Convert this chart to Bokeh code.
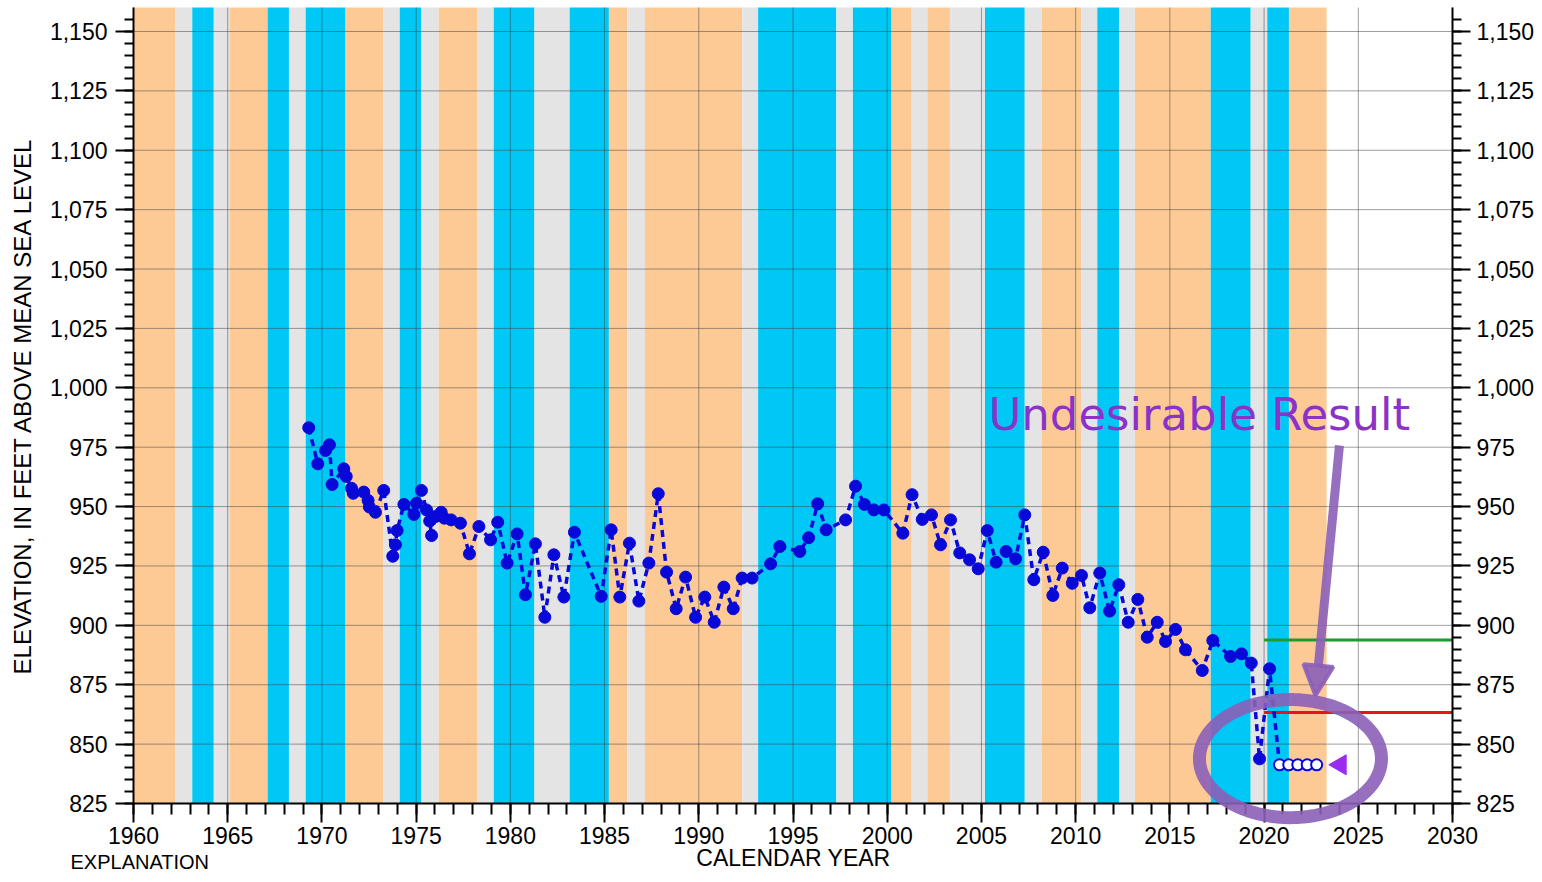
import math
import numpy as np
from bokeh.plotting import figure
from bokeh.models import (Range1d, LinearAxis, FixedTicker, NumeralTickFormatter,
                          Arrow, NormalHead, Label, PolyAnnotation)
from bokeh.embed import file_html
from bokeh.resources import INLINE

# ---------------- data ----------------
years = [1969.30, 1969.78, 1970.19, 1970.40, 1970.54, 1971.16, 1971.29, 1971.57, 1971.66, 1972.22,
         1972.45, 1972.52, 1972.84, 1973.28, 1973.76, 1973.90, 1973.99, 1974.35, 1974.88, 1975.02,
         1975.28, 1975.55, 1975.72, 1975.82, 1976.03, 1976.33, 1976.50, 1976.86, 1977.35, 1977.83,
         1978.33, 1978.95, 1979.33, 1979.83, 1980.36, 1980.80, 1981.33, 1981.83, 1982.31, 1982.84,
         1983.40, 1984.82, 1985.35, 1985.81, 1986.32, 1986.82, 1987.35, 1987.85, 1988.29, 1988.80,
         1989.30, 1989.83, 1990.32, 1990.82, 1991.33, 1991.83, 1992.30, 1992.83, 1993.81, 1994.30,
         1995.36, 1995.83, 1996.31, 1996.76, 1997.79, 1998.32, 1998.79, 1999.29, 1999.82, 2000.83,
         2001.32, 2001.86, 2002.35, 2002.83, 2003.36, 2003.85, 2004.37, 2004.83, 2005.31, 2005.78,
         2006.31, 2006.81, 2007.30, 2007.78, 2008.28, 2008.79, 2009.29, 2009.82, 2010.31, 2010.75,
         2011.28, 2011.80, 2012.29, 2012.79, 2013.30, 2013.80, 2014.33, 2014.77, 2015.30, 2015.83,
         2016.72, 2017.28, 2018.22, 2018.80, 2019.32, 2019.76, 2020.29]
elevations = [983.2, 968.0, 973.6, 976.0, 959.3, 965.9, 962.7, 957.7, 955.6, 956.1,
              952.6, 949.8, 947.6, 956.8, 929.1, 933.9, 939.9, 950.9, 946.7, 951.4,
              956.8, 948.6, 943.9, 937.8, 945.8, 947.6, 945.1, 944.4, 943.0, 930.1,
              941.6, 936.0, 943.4, 926.2, 938.5, 912.9, 934.3, 903.4, 929.7, 911.9,
              939.2, 912.2, 940.2, 911.9, 934.6, 910.2, 926.2, 955.4, 922.4, 907.0,
              920.3, 903.4, 911.9, 901.3, 916.1, 907.0, 919.9, 919.9, 925.9, 933.2,
              931.1, 936.9, 951.2, 940.2, 944.4, 958.6, 950.9, 948.6, 948.6, 938.8,
              955.0, 944.6, 946.5, 933.9, 944.4, 930.5, 927.6, 923.8, 939.9, 926.6,
              931.1, 928.0, 946.5, 919.2, 930.8, 912.6, 924.1, 917.7, 921.0, 907.4,
              922.0, 906.0, 917.1, 901.3, 910.9, 895.0, 901.3, 893.2, 898.3, 889.7,
              881.0, 893.6, 886.9, 888.0, 884.1, 843.8, 881.7]

hollow_years = [2020.82, 2021.31, 2021.79, 2022.29, 2022.79]
hollow_elevations = [841.3, 841.3, 841.3, 841.3, 841.3]

target_year = [2024.05]
target_elevation = [841.3]

objective_years = [2020.0, 2030.0]
objective_elevation = [893.8, 893.8]
threshold_years = [2020.0, 2030.0]
threshold_elevation = [863.3, 863.3]

band_start = [1960.0, 1962.23, 1963.12, 1964.26, 1965.12, 1967.12, 1968.25, 1969.14, 1971.25, 1973.25,
              1974.13, 1975.26, 1976.2, 1978.23, 1979.12, 1981.28, 1983.15, 1985.23, 1986.2, 1987.14,
              1992.3, 1993.15, 1997.3, 1998.18, 2000.23, 2001.3, 2002.13, 2003.33, 2005.19, 2007.3,
              2008.2, 2010.3, 2011.15, 2012.3, 2013.15, 2017.17, 2019.29, 2020.17, 2021.32]
band_end = band_start[1:] + [2023.32]
band_type = ["dry", "normal", "wet", "normal", "dry", "wet", "normal", "wet", "dry", "normal",
             "wet", "normal", "dry", "normal", "wet", "normal", "wet", "dry", "normal", "dry",
             "normal", "wet", "normal", "wet", "dry", "normal", "dry", "normal", "wet", "normal",
             "dry", "normal", "wet", "normal", "dry", "wet", "normal", "wet", "dry"]

x_ticks = [1960, 1965, 1970, 1975, 1980, 1985, 1990, 1995, 2000, 2005, 2010, 2015, 2020, 2025, 2030]
y_ticks = [825, 850, 875, 900, 925, 950, 975, 1000, 1025, 1050, 1075, 1100, 1125, 1150]

# ---------------- layout / styles ----------------
W, H = 1534, 874
FRAME_L, FRAME_R, FRAME_T, FRAME_B = 133, 1452, 7, 803   # pixel box of the plotted area
X0, X1 = 1960.0, 2030.0
Y0, Y1 = 825.0, 1160.1
PX_X = (FRAME_R - FRAME_L) / (X1 - X0)
PX_Y = (FRAME_B - FRAME_T) / (Y1 - Y0)

BAND_COLORS = {"dry": "#FDCA95", "normal": "#E4E4E4", "wet": "#00C8F6"}
BLUE = "#0808D8"
PURPLE = "#8B5FB8"
GRID = "#404040"
FONT = "Liberation Sans"

p = figure(width=W, height=H,
           x_range=Range1d(X0 - FRAME_L / PX_X, X1 + (W - FRAME_R) / PX_X),
           y_range=Range1d(Y0 - (H - FRAME_B) / PX_Y, Y1 + FRAME_T / PX_Y),
           output_backend="svg", toolbar_location=None,
           min_border_left=0, min_border_right=0, min_border_top=0, min_border_bottom=0)
p.outline_line_color = None
p.background_fill_color = "white"
p.border_fill_color = "white"
p.xgrid.visible = False
p.ygrid.visible = False

# background bands
p.quad(left=band_start, right=band_end, bottom=Y0, top=Y1,
       fill_color=[BAND_COLORS[t] for t in band_type], line_color=None, level="image")

# grid lines limited to the plotted box
p.segment(x0=x_ticks, y0=Y0, x1=x_ticks, y1=Y1, line_color=GRID,
          line_alpha=0.5, line_width=1, level="underlay")
p.segment(x0=X0, y0=y_ticks, x1=X1, y1=y_ticks, line_color=GRID,
          line_alpha=0.5, line_width=1, level="underlay")

# axes
xa = p.xaxis[0]
ya = p.yaxis[0]
ra = LinearAxis()
p.add_layout(ra, "right")

xa.fixed_location = Y0
xa.bounds = (X0, X1)
xa.ticker = FixedTicker(ticks=x_ticks, minor_ticks=list(range(1960, 2031)))
xa.major_tick_out = 19
xa.minor_tick_out = 11
xa.major_label_standoff = 4

ya.fixed_location = X0
ra.fixed_location = X1
for ax in (ya, ra):
    ax.bounds = (Y0, Y1)
    ax.ticker = FixedTicker(ticks=y_ticks, minor_ticks=list(range(825, 1160, 5)))
    ax.formatter = NumeralTickFormatter(format="0,0")
    ax.major_tick_out = 18
    ax.minor_tick_out = 9
ya.major_label_standoff = 8
ra.major_label_standoff = 6

for ax in (xa, ya, ra):
    ax.axis_line_width = 2
    ax.axis_line_color = "black"
    ax.major_tick_line_width = 2
    ax.minor_tick_line_width = 2
    ax.major_tick_in = 0
    ax.minor_tick_in = 0
    ax.major_label_text_font = FONT
    ax.major_label_text_font_size = "23px"
    ax.major_label_text_color = "black"

# axis titles
p.add_layout(Label(x=X0 + (22 - FRAME_L) / PX_X, y=Y0 + (FRAME_B - 405) / PX_Y,
                   text="ELEVATION, IN FEET ABOVE MEAN SEA LEVEL", angle=math.pi / 2,
                   text_font=FONT, text_font_size="24px", text_color="black",
                   text_align="center", text_baseline="middle"))
p.add_layout(Label(x=X0 + (793 - FRAME_L) / PX_X, y=Y0 - (857 - FRAME_B) / PX_Y,
                   text="CALENDAR YEAR", text_font=FONT, text_font_size="23px",
                   text_color="black", text_align="center", text_baseline="middle"))

# thresholds
p.line(objective_years, objective_elevation, line_color="#1E9A2E", line_width=3)
p.line(threshold_years, threshold_elevation, line_color="#E8141C", line_width=3)

# data
line_x = years + hollow_years[:1]
line_y = elevations + hollow_elevations[:1]
p.line(line_x, line_y, line_color=BLUE, line_width=3.5, line_dash="7 5")
p.scatter(years, elevations, size=12, fill_color=BLUE, line_color=BLUE)
p.scatter(hollow_years, hollow_elevations, size=11, fill_color="white", line_color=BLUE, line_width=2)
p.scatter(target_year, target_elevation, marker="triangle", angle=math.pi / 2, size=20,
          fill_color="#9A2CF0", line_color="#9A2CF0")

# annotations: ellipse ring around recent data, arrow and caption
ring_cx, ring_cy, ring_w, ring_h = 2021.4, 843.9, 9.66, 49.7
t = np.linspace(0, 2 * np.pi, 120)
p.add_layout(PolyAnnotation(xs=list(ring_cx + ring_w / 2 * np.cos(t)),
                            ys=list(ring_cy + ring_h / 2 * np.sin(t)),
                            fill_alpha=0, line_color=PURPLE, line_width=13, line_alpha=0.9))
p.add_layout(Arrow(end=NormalHead(size=30, fill_color=PURPLE, line_color=PURPLE,
                                  line_width=4, fill_alpha=0.9, line_alpha=0.9),
                   x_start=2024.0, y_start=975.7, x_end=2022.73, y_end=870.5,
                   line_color=PURPLE, line_width=9, line_alpha=0.9))
p.add_layout(Label(x=2005.37, y=1000.0, text="Undesirable Result", text_font="DejaVu Sans",
                   text_font_size="45px", text_color="#8B32C8", text_baseline="top"))
p.add_layout(Label(x=X0 + (70 - FRAME_L) / PX_X, y=Y0 - (850 - FRAME_B) / PX_Y,
                   text="EXPLANATION", text_font=FONT, text_font_size="20px",
                   text_color="black", text_baseline="top"))

open("out.html", "w").write(file_html(p, INLINE))
